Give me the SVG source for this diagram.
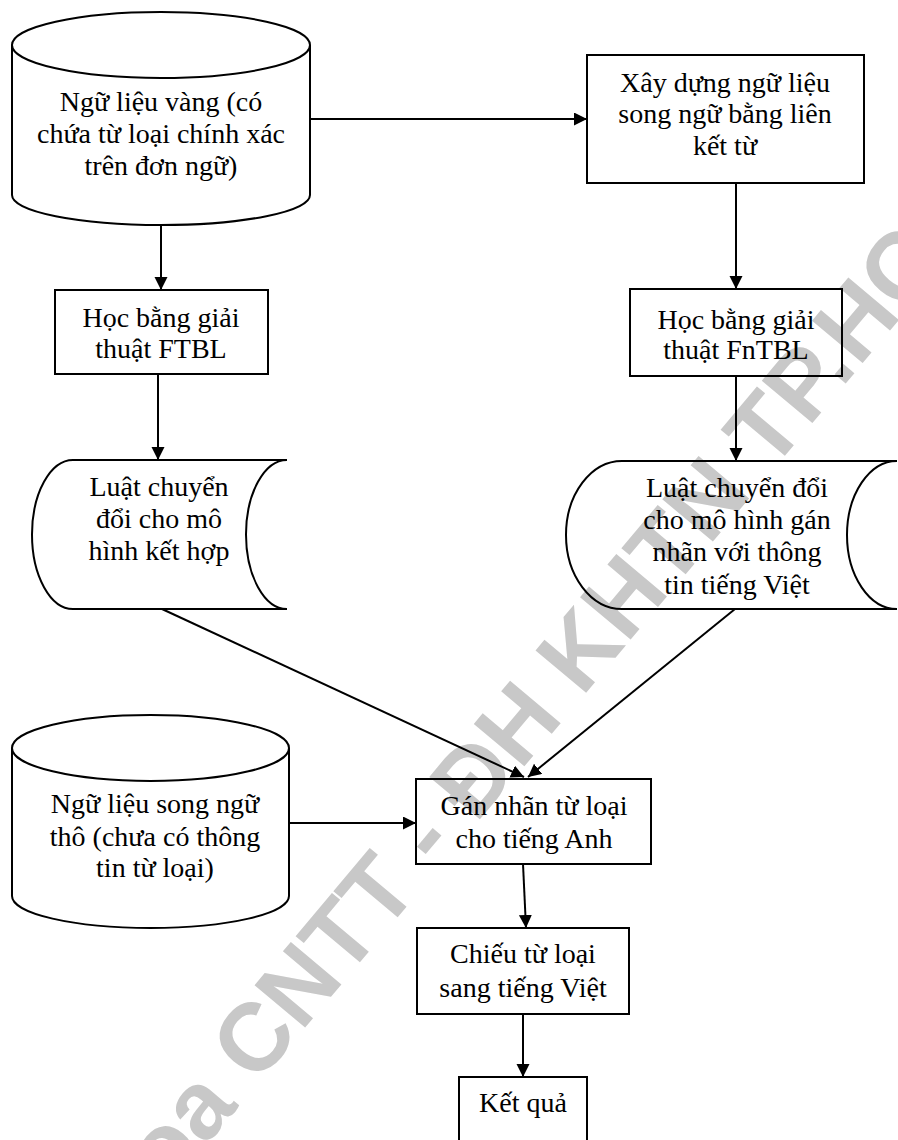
<svg xmlns="http://www.w3.org/2000/svg" width="898" height="1140" viewBox="0 0 898 1140">
<defs>
<style>
.s{fill:none;stroke:#000;stroke-width:2}
.t{font-family:"Liberation Serif","Times New Roman",serif;font-size:28px;fill:#000;text-anchor:middle}
.c{fill:none;stroke:#000;stroke-width:2}
.wm{font-family:"Liberation Sans",Arial,sans-serif;font-weight:bold;font-size:96px;fill:#c8c8c8}
</style>
<marker id="ah" markerUnits="userSpaceOnUse" markerWidth="14" markerHeight="14" refX="13" refY="6.5" orient="auto">
<path d="M0,0 L13,6.5 L0,13 Z" fill="#000"/>
</marker>
</defs>
<rect width="898" height="1140" fill="#fff"/>
<g id="watermark">
<text class="wm" transform="translate(85,1290) rotate(-50)">Khoa CNTT - ĐH KHTN TP.HCM</text>
</g>
<g id="connectors">
<line class="c" x1="310" y1="119" x2="587" y2="119" marker-end="url(#ah)"/>
<line class="c" x1="161" y1="225" x2="161" y2="290" marker-end="url(#ah)"/>
<line class="c" x1="736" y1="183" x2="736" y2="289" marker-end="url(#ah)"/>
<line class="c" x1="158" y1="374" x2="158" y2="460" marker-end="url(#ah)"/>
<line class="c" x1="736" y1="376" x2="736" y2="461" marker-end="url(#ah)"/>
<line class="c" x1="162" y1="609" x2="524" y2="777" marker-end="url(#ah)"/>
<line class="c" x1="735" y1="609" x2="528" y2="777" marker-end="url(#ah)"/>
<line class="c" x1="289" y1="823" x2="416" y2="823" marker-end="url(#ah)"/>
<line class="c" x1="523" y1="864" x2="526" y2="928" marker-end="url(#ah)"/>
<line class="c" x1="523" y1="1014" x2="523" y2="1077" marker-end="url(#ah)"/>
</g>
<g id="n1">
<ellipse class="s" cx="161" cy="45" rx="149" ry="33"/>
<path class="s" d="M12,45 L12,195 A149,30 0 0 0 310,195 L310,45"/>
<text class="t" x="161" y="111">Ngữ liệu vàng (có</text>
<text class="t" x="161" y="143">chứa từ loại chính xác</text>
<text class="t" x="161" y="175">trên đơn ngữ)</text>
</g>
<g id="n2">
<rect class="s" x="587" y="55" width="277" height="128"/>
<text class="t" x="725" y="92">Xây dựng ngữ liệu</text>
<text class="t" x="725" y="123">song ngữ bằng liên</text>
<text class="t" x="725" y="155">kết từ</text>
</g>
<g id="n3">
<rect class="s" x="55" y="290" width="213" height="84"/>
<text class="t" x="161" y="327">Học bằng giải</text>
<text class="t" x="161" y="358">thuật FTBL</text>
</g>
<g id="n4">
<rect class="s" x="630" y="289" width="212" height="87"/>
<text class="t" x="736" y="329">Học bằng giải</text>
<text class="t" x="736" y="359">thuật FnTBL</text>
</g>
<g id="n5">
<path class="s" d="M73,460 L287,460 A41,74.5 0 0 0 287,609 L73,609 A41,74.5 0 0 1 73,460 Z"/>
<text class="t" x="159" y="496">Luật chuyển</text>
<text class="t" x="159" y="528">đổi cho mô</text>
<text class="t" x="159" y="560">hình kết hợp</text>
</g>
<g id="n6">
<path class="s" d="M622,461 L897,461 A50,74 0 0 0 897,609 L622,609 A56,74 0 0 1 622,461 Z"/>
<text class="t" x="737" y="497">Luật chuyển đổi</text>
<text class="t" x="737" y="529">cho mô hình gán</text>
<text class="t" x="737" y="561">nhãn với thông</text>
<text class="t" x="737" y="594">tin tiếng Việt</text>
</g>
<g id="n7">
<ellipse class="s" cx="150.5" cy="748" rx="138.5" ry="33"/>
<path class="s" d="M12,748 L12,896 A138.5,32 0 0 0 289,896 L289,748"/>
<text class="t" x="155" y="813">Ngữ liệu song ngữ</text>
<text class="t" x="155" y="846">thô (chưa có thông</text>
<text class="t" x="155" y="877">tin từ loại)</text>
</g>
<g id="n8">
<rect class="s" x="416" y="779" width="235" height="85"/>
<text class="t" x="534" y="815">Gán nhãn từ loại</text>
<text class="t" x="534" y="848">cho tiếng Anh</text>
</g>
<g id="n9">
<rect class="s" x="417" y="928" width="212" height="86"/>
<text class="t" x="523" y="963">Chiếu từ loại</text>
<text class="t" x="523" y="997">sang tiếng Việt</text>
</g>
<g id="n10">
<rect class="s" x="459" y="1077" width="128" height="75"/>
<text class="t" x="523" y="1112">Kết quả</text>
</g>
</svg>
